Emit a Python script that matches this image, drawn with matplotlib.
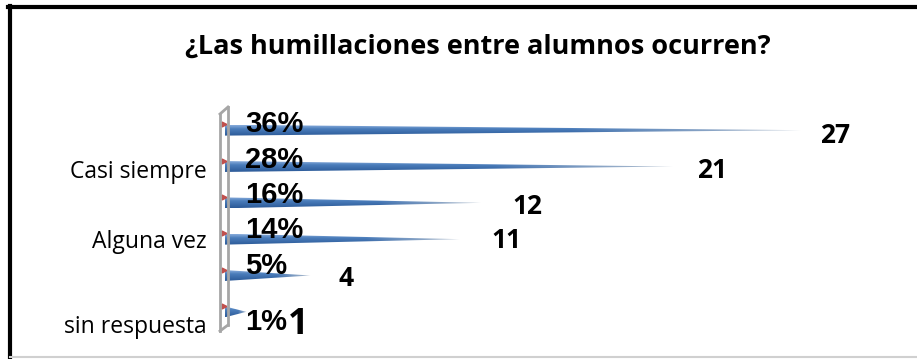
import numpy as np
import matplotlib
matplotlib.use('Agg')
import matplotlib.pyplot as plt
from matplotlib.patches import Polygon
from matplotlib.lines import Line2D
import matplotlib.colors as mcolors
from matplotlib import transforms

# data
values = [27, 21, 12, 11, 4, 1]
percents = ['36%', '28%', '16%', '14%', '5%', '1%']
cat_labels = ['', 'Casi siempre', '', 'Alguna vez', '', 'sin respuesta']
title = '¿Las humillaciones entre alumnos ocurren?'

W, H = 917, 359
DPI = 100
fig = plt.figure(figsize=(W / DPI, H / DPI), dpi=DPI)
FONT = 'Open Sans'

def fx(x):
    return x / W

def fy(y):
    return 1 - y / H

# plot area in pixels
x0, x1, ytop, ybot = 225, 865, 112, 330
ax = fig.add_axes([fx(x0), fy(ybot), (x1 - x0) / W, (ybot - ytop) / H])
ax.axis('off')

def off(dx, dy):
    # offset in pixels (y downward)
    return transforms.offset_copy(ax.transData, fig=fig, x=dx, y=-dy, units='dots')

# cone gradient: vertical shading + fade at the tip
top_c = np.array(mcolors.to_rgb('#86ABDA'))
mid_c = np.array(mcolors.to_rgb('#4A7CBA'))
bot_c = np.array(mcolors.to_rgb('#2C5A98'))
tip_c = np.array(mcolors.to_rgb('#B8C4D2'))
nv, nh = 24, 120
t = np.linspace(0, 1, nv)[:, None]
vert = np.where(t < 0.35, top_c + (mid_c - top_c) * (t / 0.35),
                mid_c + (bot_c - mid_c) * ((t - 0.35) / 0.65))
s = np.linspace(0, 1, nh)[None, :, None]
fade = np.clip((s - 0.6) / 0.4, 0, 1)
img = vert[:, None, :] * (1 - fade) + tip_c * fade

h = 0.15
for i, v in enumerate(values):
    tri = Polygon([(0, i - h), (v, i), (0, i + h)], closed=True,
                  transform=ax.transData, facecolor='none', edgecolor='none')
    ax.add_patch(tri)
    im = ax.imshow(img, extent=(0, v, i + h, i - h), aspect='auto',
                   interpolation='bilinear', zorder=2)
    im.set_clip_path(tri)
ax.set_xlim(0, 30)
ax.set_ylim(len(values) - 0.5, -0.5)

# small red markers on the wall
for i in range(len(values)):
    ax.plot([-1 / 21.3], [i], marker='>', ms=3.5, color='#C0504D',
            transform=off(0, -6), zorder=4, clip_on=False)

# wall
wall = '#A6A6A6'
for (xa, ya, xb, yb) in [(220, 114, 220, 331), (228, 107, 228, 325),
                         (220, 114, 228, 107), (220, 331, 228, 325)]:
    fig.add_artist(Line2D([fx(xa), fx(xb)], [fy(ya), fy(yb)], color=wall, lw=2))

# percent labels
pct_dy = [-6, -6, -8, -9, -9, 10]
for i, p in enumerate(percents):
    ax.text(0, i, p, transform=off(20, pct_dy[i]), ha='left', va='center',
            fontsize=21, fontweight='bold', family='Liberation Sans', zorder=5)

# value labels
val_off = [(19, 5), (24, 4), (31, 4), (32, 1), (28, 3), (42, 13)]
val_fs = [19, 19, 19, 19, 19, 26]
for i, v in enumerate(values):
    dx, dy = val_off[i]
    ax.text(v, i, str(v), transform=off(dx, dy), ha='left', va='center',
            fontsize=val_fs[i], fontweight='bold', family=FONT, zorder=5)

# category labels
cat_dy = [0, 6, 0, 3, 0, 15]
for i, c in enumerate(cat_labels):
    if c:
        ax.text(0, i, c, transform=off(-18, cat_dy[i]), ha='right', va='center',
                fontsize=16.5, family=FONT)

fig.text(fx(478), fy(47), title, ha='center', va='center', fontsize=19.5,
         fontweight='bold', family=FONT)

# frame
fig.add_artist(Line2D([fx(8), fx(917)], [fy(7), fy(7)], color='black', lw=3))
fig.add_artist(Line2D([fx(10), fx(10)], [fy(6), fy(359)], color='black', lw=3))
fig.add_artist(Line2D([fx(10), fx(917)], [fy(357), fy(357)], color='#D0D0D0', lw=1.5))

fig.savefig('out.png', dpi=DPI)
